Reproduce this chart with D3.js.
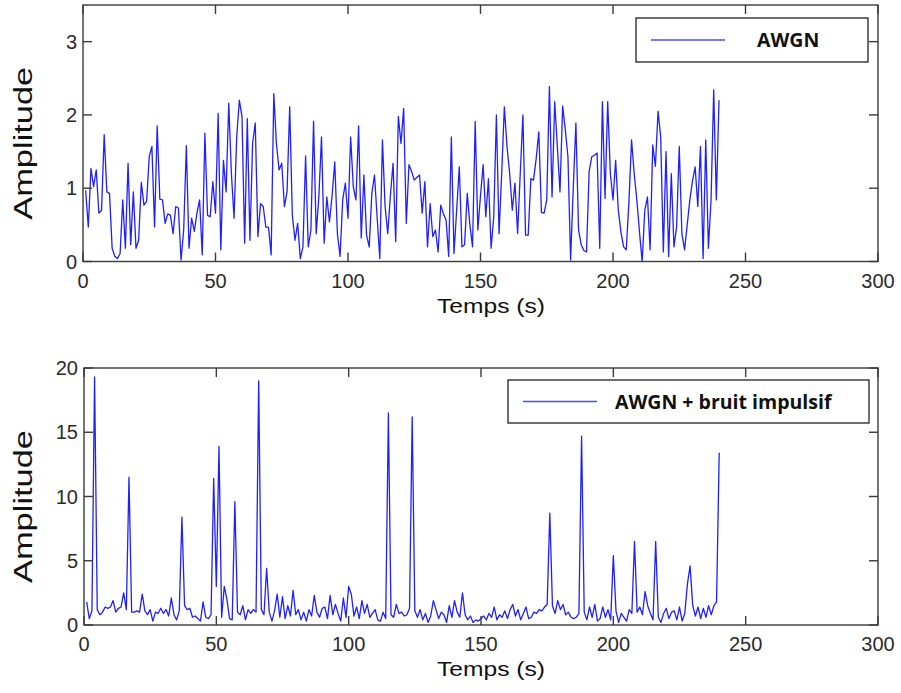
<!DOCTYPE html>
<html><head><meta charset="utf-8">
<script src="https://cdn.jsdelivr.net/npm/d3@7"></script>
<style>
html,body{margin:0;padding:0;background:#fff;}
svg{display:block;}
</style></head>
<body>
<svg id="chart" width="901" height="693"></svg>
<script>
// ---------- DATA ----------
const xTicks = [0, 50, 100, 150, 200, 250, 300];
const yTicksTop = [0, 1, 2, 3];
const yTicksBottom = [0, 5, 10, 15, 20];
const legendTop = "AWGN";
const legendBottom = "AWGN + bruit impulsif";
const xLabel = "Temps (s)";
const yLabel = "Amplitude";

// samples t = 1..240 s
const awgn = [
0.97,0.47,1.27,1.02,1.25,0.66,0.70,1.73,0.95,0.93,
0.18,0.07,0.04,0.11,0.84,0.18,1.34,0.23,0.95,0.18,
0.29,1.08,0.77,0.82,1.43,1.57,0.47,1.85,0.85,0.84,
0.52,0.65,0.63,0.38,0.75,0.73,0.02,0.43,1.58,0.18,
0.59,0.41,0.66,0.84,0.09,1.75,0.63,0.61,1.09,0.66,
2.02,0.16,1.38,0.95,2.16,1.20,0.59,1.70,2.20,1.98,
0.25,1.95,0.29,1.61,1.89,0.34,0.79,0.75,0.47,0.47,
0.09,2.29,1.60,1.25,1.34,0.75,0.95,2.11,0.63,0.29,
0.52,0.04,0.20,1.44,0.20,0.43,1.91,0.38,0.88,1.70,
0.25,0.88,0.54,0.90,1.36,0.38,0.07,0.84,1.07,0.59,
1.70,1.02,0.84,1.85,0.32,1.18,0.36,0.20,0.93,1.18,
0.60,0.04,1.66,0.75,0.38,0.90,1.34,0.27,1.98,1.61,
2.09,0.52,1.32,1.23,1.11,1.15,1.18,0.66,1.09,0.20,
0.79,0.34,0.43,0.13,0.77,0.65,0.57,0.07,1.70,0.11,
0.70,1.29,0.20,0.23,0.93,0.50,0.20,1.91,0.43,0.90,
1.32,0.61,1.13,0.18,0.61,2.00,0.38,1.20,2.11,1.57,
1.20,0.70,1.07,0.38,1.20,2.00,0.36,0.36,1.13,1.11,
1.40,1.77,0.67,0.66,0.84,2.39,0.88,2.18,1.57,0.95,
2.12,1.80,1.43,0.02,1.00,1.89,0.43,0.23,0.15,0.13,
1.23,1.43,1.45,1.48,0.18,2.18,0.86,2.18,1.20,0.84,
1.38,0.70,0.40,0.20,0.16,0.80,1.66,1.20,0.84,0.40,
0.00,0.70,0.88,0.16,1.59,1.30,2.05,1.70,0.13,1.50,
0.07,1.20,0.20,0.47,1.57,0.38,0.16,0.50,0.84,1.10,
1.29,0.75,1.57,0.04,1.66,0.18,0.84,2.34,0.84,2.20
];

const awgnImpulse = [
1.8,0.5,1.1,19.3,1.2,0.8,1.0,1.4,1.3,1.4,
1.9,1.0,1.3,1.4,2.5,1.2,11.5,1.0,1.0,1.1,
1.0,2.4,1.1,0.8,1.2,0.3,1.0,0.9,1.3,0.9,
1.2,0.7,2.1,0.8,0.4,1.1,8.4,1.5,1.2,1.3,
0.6,0.7,0.5,0.3,1.8,0.6,0.5,0.8,11.4,3.0,
13.9,0.6,3.0,2.0,0.5,0.4,9.6,1.0,0.8,1.5,
0.4,1.2,0.9,1.2,1.0,19.0,1.2,0.8,4.4,1.0,
0.3,1.1,2.4,0.6,2.2,0.5,1.5,0.7,2.7,0.8,
1.2,0.4,1.0,0.3,1.2,0.7,2.3,1.0,0.6,1.3,
1.4,0.5,2.3,0.8,1.6,0.9,0.3,2.1,0.6,3.0,
2.4,0.7,1.4,0.5,1.9,0.9,1.6,0.6,0.9,1.2,
0.4,0.3,1.0,0.5,16.5,0.8,0.6,1.6,0.9,1.0,
0.7,0.8,1.3,16.2,1.1,0.6,1.2,0.4,0.9,0.2,
0.7,1.9,1.2,0.5,1.0,0.8,0.2,1.5,0.6,1.9,
1.0,0.6,2.5,0.8,0.4,0.7,0.2,0.4,0.3,0.5,
0.7,0.4,0.9,0.6,1.4,0.4,0.8,0.6,1.1,0.5,
1.2,1.6,0.7,1.2,0.4,0.9,1.4,0.5,0.6,1.0,
0.9,1.2,1.1,1.4,1.6,8.7,1.5,0.9,1.9,1.2,
1.6,0.8,1.0,0.6,0.5,0.6,0.9,14.7,1.0,0.4,
1.4,0.6,1.6,0.3,0.5,1.4,0.6,1.2,0.4,5.4,
1.1,0.2,0.9,0.6,0.3,1.2,0.9,6.5,1.0,1.4,
0.8,2.6,1.5,0.9,0.4,6.5,0.6,0.2,0.9,1.3,
0.5,1.0,1.1,0.4,1.4,0.3,0.9,3.2,4.6,1.5,
0.7,1.4,0.5,1.3,0.6,1.5,0.8,1.5,1.8,13.4
];
const timeTop = awgn.map((_, i) => i + 1);
const timeBottom = awgnImpulse.map((_, i) => i + 1);

// ---------- DRAW ----------
const svg = d3.select("#chart");
const lineColor = "#2020ff";
const frameColor = "#3a3a3a";
const tickFont = "'Liberation Sans', Arial, sans-serif";
const labelFont = "'Open Sans', 'Noto Sans', sans-serif";

function panel(cfg) {
  const x = d3.scaleLinear().domain([0, 300]).range([cfg.left, cfg.right]);
  const y = d3.scaleLinear().domain(cfg.yDomain).range([cfg.bottom, cfg.top]);
  const g = svg.append("g");
  const tl = 9;

  // data line
  const data = cfg.t.map((t, i) => [t, cfg.v[i]]);
  g.append("path").datum(data)
    .attr("fill", "none").attr("stroke", lineColor).attr("stroke-width", 1.3)
    .attr("stroke-linejoin", "round")
    .attr("d", d3.line().x(d => x(d[0])).y(d => y(d[1])));

  // frame
  g.append("rect").attr("x", cfg.left).attr("y", cfg.top)
    .attr("width", cfg.right - cfg.left).attr("height", cfg.bottom - cfg.top)
    .attr("fill", "none").attr("stroke", frameColor).attr("stroke-width", 1.4);

  // inward ticks
  const ticks = g.append("g").attr("stroke", frameColor).attr("stroke-width", 1.4);
  xTicks.forEach(v => {
    ticks.append("line").attr("x1", x(v)).attr("x2", x(v)).attr("y1", cfg.bottom).attr("y2", cfg.bottom - tl);
    ticks.append("line").attr("x1", x(v)).attr("x2", x(v)).attr("y1", cfg.top).attr("y2", cfg.top + tl);
  });
  cfg.yTicks.forEach(v => {
    ticks.append("line").attr("x1", cfg.left).attr("x2", cfg.left + tl).attr("y1", y(v)).attr("y2", y(v));
    ticks.append("line").attr("x1", cfg.right).attr("x2", cfg.right - tl).attr("y1", y(v)).attr("y2", y(v));
  });

  // tick labels
  g.append("g").selectAll("text").data(xTicks).join("text")
    .attr("x", d => x(d)).attr("y", cfg.bottom + 26)
    .attr("text-anchor", "middle").attr("font-family", tickFont).attr("font-size", 20)
    .attr("fill", "#2b2b2b").text(d => d);
  g.append("g").selectAll("text").data(cfg.yTicks).join("text")
    .attr("x", cfg.left - 6).attr("y", d => y(d) + 7)
    .attr("text-anchor", "end").attr("font-family", tickFont).attr("font-size", 20)
    .attr("fill", "#2b2b2b").text(d => d);

  // axis labels
  g.append("text").attr("x", 491).attr("y", cfg.bottom + 51)
    .attr("text-anchor", "middle").attr("font-family", tickFont).attr("font-size", 20)
    .attr("textLength", 108).attr("lengthAdjust", "spacingAndGlyphs")
    .attr("fill", "#111").text(xLabel);
  g.append("text")
    .attr("transform", `translate(32,${(cfg.top + cfg.bottom) / 2 + 10}) rotate(-90)`)
    .attr("text-anchor", "middle").attr("font-family", tickFont).attr("font-size", 26)
    .attr("textLength", 153).attr("lengthAdjust", "spacingAndGlyphs")
    .attr("fill", "#111").text(yLabel);

  // legend
  const L = cfg.legend;
  g.append("rect").attr("x", L.x).attr("y", L.y).attr("width", L.w).attr("height", L.h)
    .attr("fill", "#fff").attr("stroke", "#222").attr("stroke-width", 1.3);
  g.append("line").attr("x1", L.x + 15).attr("x2", L.x + 89)
    .attr("y1", L.y + L.h / 2).attr("y2", L.y + L.h / 2)
    .attr("stroke", "#4a4aff").attr("stroke-width", 1.6);
  g.append("text").attr("x", L.tx).attr("y", L.y + L.h / 2 + 7)
    .attr("font-family", labelFont).attr("font-weight", "bold").attr("font-size", 19.5)
    .attr("fill", "#111").text(L.text);
}

panel({
  left: 83, right: 878, top: 5, bottom: 261.5, yDomain: [0, 3.5], yTicks: yTicksTop,
  t: timeTop, v: awgn,
  legend: { x: 636, y: 18, w: 232, h: 44, tx: 757, text: legendTop }
});
panel({
  left: 84, right: 878, top: 368, bottom: 625, yDomain: [0, 20], yTicks: yTicksBottom,
  t: timeBottom, v: awgnImpulse,
  legend: { x: 508, y: 380, w: 361, h: 43, tx: 615, text: legendBottom }
});
</script>
</body></html>
